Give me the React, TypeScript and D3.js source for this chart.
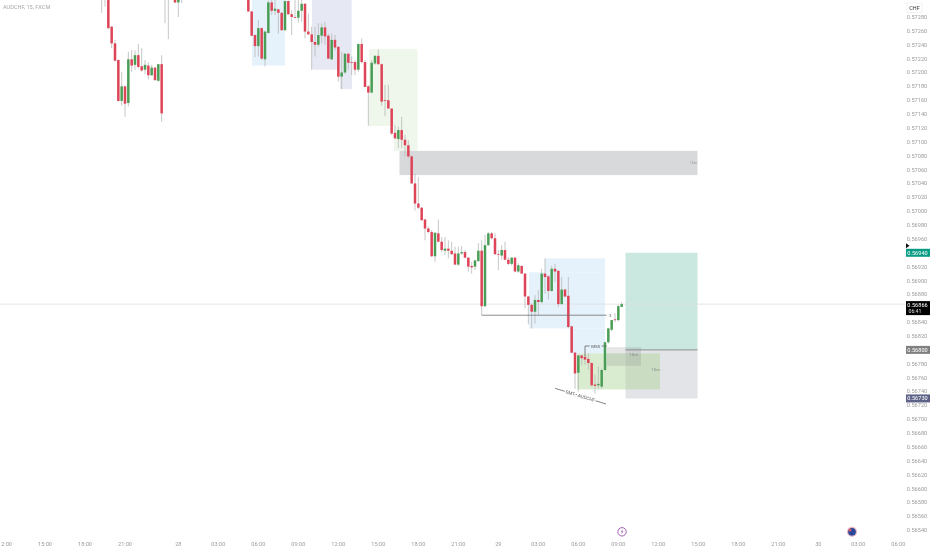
import React, { useEffect, useRef } from 'react';
import * as d3 from 'd3';

// prices in points (1 point = 0.00001), one entry per 15 minute bar, null = off the top of the chart
const opens: (number | null)[] = [
  57315, 57318, 57330, 57266, 57242, 57218, 57159, 57180, 57156, 57219, 57211, 57225, 57209, 57204, 57210, 57196, 57207, 57188, 57212, 57320, 57335, null, 57310, 57301, 57310,
  null, null, null, null, null, null, null, null, null, null, null, null, null, null, null, null, null, null, null,
  57320, 57288, 57254, 57238, 57264, 57219, 57257, 57301, 57289, 57291, 57286, 57261, 57303, 57284, 57280, 57279, 57289, 57299, 57259, 57255,
  57244, 57240, 57253, 57265, 57253, 57219, 57247, 57237, 57194, 57200, 57227, 57215, 57215, 57204, 57241, 57215, 57180, 57171, 57213, 57224,
  57212, 57160, 57160, 57148, 57113, 57104, 57117, 57103, 57095, 57079, 57040, 57011, 57005, 56988, 56975, 56970, 56935, 56968, 56956, 56943,
  56946, 56943, 56939, 56923, 56939, 56941, 56933, 56921, 56920, 56928, 56943, 56863, 56951, 56968, 56961, 56938, 56936, 56944, 56930, 56924,
  56933, 56913, 56921, 56910, 56877, 56865, 56855, 56872, 56869, 56910, 56906, 56885, 56917, 56914, 56866, 56887, 56878, 56834, 56796, 56767,
  56792, 56790, 56787, 56781, 56750, 56749, 56747, 56771, 56811, 56829, 56844, 56843, 56862,
];
const highs: (number | null)[] = [
  57325, 57330, 57335, 57267, 57247, 57219, 57201, 57181, 57230, 57232, 57232, 57241, 57235, 57218, 57215, 57211, 57208, 57212, 57225, 57340, 57345, null, 57312, 57312, 57320,
  null, null, null, null, null, null, null, null, null, null, null, null, null, null, null, null, null, null, null,
  57325, 57289, 57255, 57276, 57265, 57260, 57304, 57312, 57315, 57292, 57287, 57304, 57304, 57290, 57306, 57306, 57310, 57300, 57285, 57266,
  57266, 57271, 57271, 57273, 57256, 57256, 57254, 57238, 57230, 57228, 57228, 57223, 57218, 57242, 57249, 57218, 57182, 57218, 57225, 57233,
  57213, 57182, 57182, 57148, 57124, 57122, 57136, 57110, 57102, 57081, 57054, 57049, 57006, 56989, 56978, 56973, 56969, 56988, 56963, 56963,
  56958, 56956, 56949, 56949, 56950, 56944, 56934, 56927, 56930, 56954, 56958, 56966, 56970, 56970, 56968, 56944, 56951, 56956, 56934, 56934,
  56934, 56925, 56922, 56911, 56878, 56867, 56879, 56886, 56917, 56932, 56908, 56921, 56924, 56915, 56905, 56888, 56905, 56835, 56797, 56793,
  56793, 56793, 56795, 56782, 56764, 56776, 56773, 56812, 56832, 56843, 56853, 56865, 56869,
];
const lows: (number | null)[] = [
  57286, 57295, 57262, 57235, 57216, 57158, 57152, 57136, 57151, 57201, 57204, 57206, 57201, 57198, 57190, 57195, 57188, 57187, 57129, 57271, 57248, null, 57300, 57280, 57300,
  null, null, null, null, null, null, null, null, null, null, null, null, null, null, null, null, null, null, null,
  57287, 57252, 57222, 57223, 57218, 57209, 57256, 57283, 57283, 57256, 57260, 57260, 57283, 57254, 57278, 57272, 57273, 57249, 57254, 57204,
  57223, 57237, 57242, 57240, 57219, 57218, 57232, 57187, 57176, 57198, 57204, 57196, 57196, 57201, 57213, 57179, 57123, 57170, 57211, 57211,
  57152, 57137, 57148, 57110, 57104, 57091, 57091, 57079, 57076, 57039, 57001, 57003, 56986, 56958, 56968, 56934, 56927, 56955, 56941, 56937,
  56932, 56937, 56922, 56921, 56937, 56932, 56913, 56910, 56915, 56927, 56850, 56862, 56950, 56959, 56937, 56915, 56930, 56930, 56922, 56922,
  56912, 56911, 56910, 56860, 56837, 56831, 56838, 56850, 56867, 56881, 56873, 56884, 56898, 56862, 56865, 56876, 56831, 56795, 56744, 56740,
  56778, 56778, 56771, 56747, 56737, 56744, 56744, 56770, 56809, 56827, 56840, 56841, 56862,
];
const closes: (number | null)[] = [
  57310, 57322, 57264, 57242, 57217, 57159, 57180, 57155, 57219, 57210, 57225, 57208, 57203, 57211, 57196, 57207, 57189, 57212, 57141, 57330, 57325, null, 57301, 57307, 57315,
  null, null, null, null, null, null, null, null, null, null, null, null, null, null, null, null, null, null, null,
  57288, 57253, 57238, 57264, 57220, 57259, 57301, 57289, 57292, 57286, 57261, 57303, 57284, 57280, 57279, 57289, 57299, 57259, 57255, 57244,
  57240, 57254, 57265, 57252, 57220, 57247, 57236, 57194, 57200, 57227, 57214, 57214, 57204, 57241, 57215, 57179, 57171, 57214, 57224, 57212,
  57158, 57159, 57148, 57112, 57105, 57117, 57103, 57095, 57079, 57040, 57011, 57005, 56987, 56975, 56970, 56935, 56969, 56956, 56944, 56946,
  56943, 56938, 56923, 56939, 56941, 56933, 56920, 56919, 56929, 56943, 56863, 56951, 56968, 56961, 56938, 56937, 56944, 56930, 56924, 56933,
  56913, 56922, 56910, 56877, 56865, 56855, 56872, 56869, 56910, 56905, 56885, 56917, 56913, 56866, 56887, 56877, 56833, 56796, 56766, 56792,
  56788, 56786, 56781, 56749, 56748, 56751, 56771, 56811, 56831, 56843, 56843, 56863, 56866,
];

const timeLabels = ['12:00', '15:00', '18:00', '21:00', '28', '03:00', '06:00', '09:00', '12:00', '15:00', '18:00', '21:00', '29', '03:00', '06:00', '09:00', '12:00', '15:00', '18:00', '21:00', '30', '03:00', '06:00'];
const timeBars = [-29, -17, -5, 7, 23, 35, 47, 59, 71, 83, 95, 107, 119, 131, 143, 155, 167, 179, 191, 203, 215, 227, 239];

const priceTicks = [
  0.5728, 0.5726, 0.5724, 0.5722, 0.572, 0.5718, 0.5716, 0.5714, 0.5712, 0.571, 0.5708, 0.5706, 0.5704, 0.5702, 0.57,
  0.5698, 0.5696, 0.5692, 0.569, 0.5688, 0.5684, 0.5682, 0.5678, 0.5676, 0.5674, 0.5672, 0.567, 0.5668, 0.5666, 0.5664,
  0.5662, 0.566, 0.5658, 0.5656, 0.5654,
];

// drawn zones: bars from/to, prices top/bottom (in points)
const blueZones = [
  [45.1, 55, 57330, 57210],
  [133, 151, 56932, 56912],
  [128.2, 151, 56912, 56831],
  [140.5, 151, 56831, 56795],
];
const purpleZones = [
  [63.1, 75, 57330, 57204],
  [71.5, 75.1, 57204, 57176],
];
const paleGreenZones = [
  [80.2, 94.75, 57234, 57123],
  [87.7, 94.75, 57123, 57087],
];

const currentPrice = 0.56866;
const targetPrice = 0.5694;
const entryPrice = 0.568;
const stopPrice = 0.5673;

const RED = '#dd4457';
const GREEN = '#4a9d55';
const WICK = '#b8b8b8';
const AXIS_TEXT = '#9c9c9c';
const FONT = 'Roboto, sans-serif';

export default function App() {
  const svgRef = useRef<SVGSVGElement>(null);

  useEffect(() => {
    if (!svgRef.current) return;
    const svg = d3.select(svgRef.current);
    svg.selectAll('*').remove();

    const x = d3.scaleLinear().domain([0, 156]).range([101.67, 621.67]);
    const y = d3.scaleLinear().domain([0.5728, 0.5654]).range([17, 530.2]);
    const yp = (pts: number) => y(pts / 100000);

    const zone = (b0: number, b1: number, top: number, bottom: number, fill: string, opacity = 1) =>
      svg.append('rect')
        .attr('x', x(b0))
        .attr('y', yp(top))
        .attr('width', x(b1) - x(b0))
        .attr('height', yp(bottom) - yp(top))
        .attr('fill', fill)
        .attr('fill-opacity', opacity);

    const label = (px: number, py: number, text: string, size: number, fill: string, anchor = 'middle') =>
      svg.append('text')
        .attr('x', px)
        .attr('y', py)
        .attr('text-anchor', anchor)
        .attr('dominant-baseline', 'central')
        .attr('font-family', FONT)
        .attr('font-size', size)
        .attr('fill', fill)
        .text(text);

    const seg = (b0: number, p0: number, b1: number, p1: number, stroke: string, w = 0.8) =>
      svg.append('line')
        .attr('x1', x(b0)).attr('y1', yp(p0))
        .attr('x2', x(b1)).attr('y2', yp(p1))
        .attr('stroke', stroke)
        .attr('stroke-width', w);

    // Zones
    blueZones.forEach(z => zone(z[0], z[1], z[2], z[3], '#e5f1fb'));
    purpleZones.forEach(z => zone(z[0], z[1], z[2], z[3], '#e6e8f3'));
    paleGreenZones.forEach(z => zone(z[0], z[1], z[2], z[3], '#eff6eb'));
    zone(89.35, 178.75, 57087, 57052, '#d8d9db');

    // Long position box
    zone(157.15, 178.75, targetPrice * 100000, entryPrice * 100000, '#cbe8e0');
    zone(157.15, 178.75, entryPrice * 100000, stopPrice * 100000, '#e3e4e8');
    zone(142.6, 167.5, 56795, 56743, 'rgb(170,213,151)', 0.45);
    zone(151.6, 161.8, 56804, 56777, '#808080', 0.2);

    // Current price line
    svg.append('line')
      .attr('x1', 0).attr('x2', 905)
      .attr('y1', y(currentPrice)).attr('y2', y(currentPrice))
      .attr('stroke', '#dedede')
      .attr('stroke-width', 0.8);

    // Candles
    const bars = d3.range(opens.length).filter(i => opens[i] !== null);
    svg.append('g').selectAll('line')
      .data(bars)
      .enter()
      .append('line')
      .attr('x1', i => x(i)).attr('x2', i => x(i))
      .attr('y1', i => yp(highs[i]!)).attr('y2', i => yp(lows[i]!))
      .attr('stroke', WICK)
      .attr('stroke-width', 0.8);
    svg.append('g').selectAll('rect')
      .data(bars)
      .enter()
      .append('rect')
      .attr('x', i => x(i) - 1.25)
      .attr('width', 2.5)
      .attr('y', i => yp(Math.max(opens[i]!, closes[i]!)))
      .attr('height', i => Math.max(0.8, Math.abs(yp(opens[i]!) - yp(closes[i]!))))
      .attr('fill', i => (closes[i]! >= opens[i]! ? GREEN : RED));

    // Annotations
    seg(114, 56850, 151.5, 56850, '#6f6f6f');
    label(x(152.6), yp(56850), 'x', 4.5, '#777');
    seg(157.15, 56800, 178.75, 56800, '#777');

    seg(145, 56805.6, 146.4, 56805.6, '#666');
    seg(145, 56805.6, 145, 56791, '#666');
    seg(150, 56805.6, 151.5, 56805.6, '#666');
    label(x(148.2), yp(56805.6), 'MSS', 4.4, '#555');

    seg(136, 56744.6, 151.3, 56722, '#666');
    const angle = Math.atan2(yp(56722) - yp(56744.6), x(151.3) - x(136)) * 180 / Math.PI;
    const midX = x(143.6);
    const midY = yp(56733.3);
    label(midX, midY, 'SMT : AUDCHF', 4.6, '#555')
      .attr('transform', `rotate(${angle},${midX},${midY})`)
      .attr('stroke', '#fff')
      .attr('stroke-width', 2)
      .attr('paint-order', 'stroke');

    label(x(177.5), yp(57069), '15m', 3.6, '#999');
    label(x(159.6), yp(56794), '15m', 4.4, '#8a8a8a');
    label(x(166.2), yp(56771.5), '15m', 4.4, '#8a8a8a');

    label(3, 6.5, 'AUDCHF, 15, FXCM', 5.6, '#a8a8a8', 'start');

    // Price axis
    svg.append('g').selectAll('text')
      .data(priceTicks)
      .enter()
      .append('text')
      .attr('x', 917)
      .attr('y', d => y(d))
      .attr('text-anchor', 'middle')
      .attr('dominant-baseline', 'central')
      .attr('font-family', FONT)
      .attr('font-size', 5.6)
      .attr('fill', AXIS_TEXT)
      .text(d => d.toFixed(5));

    // Price tags
    const tag = (price: number, text: string, fill: string, h = 8) => {
      svg.append('rect')
        .attr('x', 906).attr('y', y(price) - h / 2)
        .attr('width', 24).attr('height', h)
        .attr('fill', fill);
      label(917.5, y(price), text, 5.6, '#fff');
    };
    tag(targetPrice, targetPrice.toFixed(5), '#0b9c85');
    tag(entryPrice, entryPrice.toFixed(5), '#808080');
    tag(stopPrice, stopPrice.toFixed(5), '#5e6188');

    svg.append('rect')
      .attr('x', 906).attr('y', y(currentPrice) - 3)
      .attr('width', 24).attr('height', 14)
      .attr('fill', '#000');
    label(917.5, y(currentPrice) + 0.6, currentPrice.toFixed(5), 5.6, '#fff');
    label(915, y(currentPrice) + 7, '06:41', 5.2, '#ddd');

    svg.append('path')
      .attr('d', `M906,${y(targetPrice) - 9.5}L909.5,${y(targetPrice) - 7}L906,${y(targetPrice) - 4.5}Z`)
      .attr('fill', '#111');

    svg.append('rect')
      .attr('x', 907).attr('y', 3).attr('width', 15).attr('height', 9.5)
      .attr('fill', '#fff').attr('stroke', '#ececec').attr('stroke-width', 0.6);
    label(914.5, 7.8, 'CHF', 5.4, '#333');

    // Time axis
    svg.append('g').selectAll('text')
      .data(timeBars)
      .enter()
      .append('text')
      .attr('x', d => x(d))
      .attr('y', 543.7)
      .attr('text-anchor', 'middle')
      .attr('dominant-baseline', 'central')
      .attr('font-family', FONT)
      .attr('font-size', 5.6)
      .attr('fill', AXIS_TEXT)
      .text((_, i) => timeLabels[i]);

    // Event markers
    svg.append('circle')
      .attr('cx', 622).attr('cy', 531.8).attr('r', 4.2)
      .attr('fill', '#fff').attr('stroke', '#9a4fa8').attr('stroke-width', 0.9);
    svg.append('path')
      .attr('d', 'M622.9,529.3L620.8,532.3L622,532.3L621.1,534.4L623.3,531.3L622.1,531.3Z')
      .attr('fill', '#9a4fa8');
    svg.append('circle')
      .attr('cx', 852).attr('cy', 531.8).attr('r', 4.4)
      .attr('fill', '#27479c').attr('stroke', '#eeb4bb').attr('stroke-width', 1.1);
    svg.append('circle')
      .attr('cx', 850).attr('cy', 530).attr('r', 1.5)
      .attr('fill', '#d9596d');
  }, []);

  return (
    <svg
      ref={svgRef}
      width={932}
      height={550}
      style={{ position: 'absolute', left: 0, top: 0, background: '#fff', filter: 'blur(0.3px)' }}
    />
  );
}
